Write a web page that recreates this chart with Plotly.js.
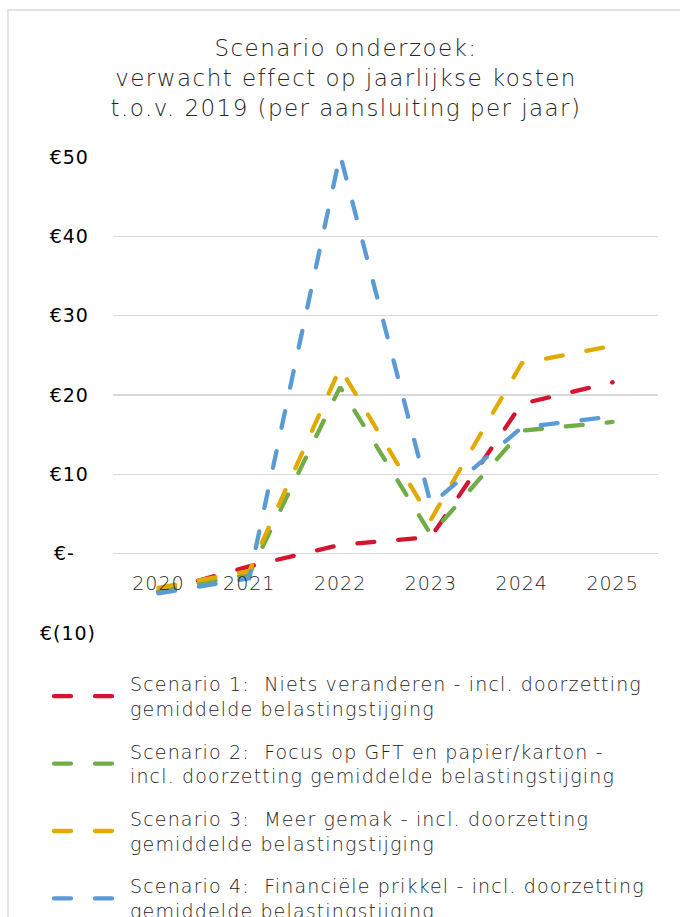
<!DOCTYPE html>
<html>
<head>
<meta charset="utf-8">
<script src="https://cdn.plot.ly/plotly-3.0.1.min.js"></script>
<style>
  body { margin: 0; background: #fff; overflow: hidden; }
  #frame { position: absolute; left: 7px; top: 9px; border-left: 2px solid #e3e3e3; border-top: 2px solid #e3e3e3; }
  .scatterlayer .js-line, .legendlines path { stroke-linecap: round; }
  /* the original is rendered with wide letter spacing */
  .legendtext { letter-spacing: 1.15px; }
  .gtitle { letter-spacing: 1.45px; }
  .xtick text { letter-spacing: 1px; }
  .ytick text { letter-spacing: 1px; }
</style>
</head>
<body>
<div id="frame"><div id="myDiv"></div></div>
<script>
// ---------------- data ----------------
var years = ['2020', '2021', '2022', '2023', '2024', '2025'];

var scen1 = [-4.8, -1.6, 1.1, 2.1, 18.9, 21.6];
var scen2 = [-4.7, -2.6, 21.0, 2.4, 15.5, 16.6];
var scen3 = [-4.3, -2.2, 23.4, 4.3, 24.0, 26.2];
var scen4 = [-5.0, -3.1, 50.3, 6.2, 15.9, 17.3];

var names = [
  'Scenario 1:  Niets veranderen - incl. doorzetting<br>gemiddelde belastingstijging',
  'Scenario 2:  Focus op GFT en papier/karton -<br>incl. doorzetting gemiddelde belastingstijging',
  'Scenario 3:  Meer gemak - incl. doorzetting<br>gemiddelde belastingstijging',
  'Scenario 4:  Financiële prikkel - incl. doorzetting<br>gemiddelde belastingstijging'
];

var colors = ['#d5152f', '#70ad47', '#e2aa00', '#5b9bd5'];

var yTicks = [-10, 0, 10, 20, 30, 40, 50];
var yLabels = ['€(10)', '€-\u00a0\u00a0\u00a0', '€10\u00a0', '€20\u00a0', '€30\u00a0', '€40\u00a0', '€50\u00a0'];

// ---------------- chart ----------------
var series = [scen1, scen2, scen3, scen4];
var data = series.map(function (vals, i) {
  return {
    x: years,
    y: vals,
    type: 'scatter',
    mode: 'lines',
    name: names[i],
    legendgroup: 'g' + i,
    line: {color: colors[i], width: 4.3, dash: '17px,24px'},
    hoverinfo: 'name+y'
  };
});

var txt = '#262626';
var fam = 'DejaVu Sans, sans-serif';

var layout = {
  width: 700,
  height: 960,
  margin: {l: 104, r: 51, t: 146, b: 338, autoexpand: false},
  paper_bgcolor: '#fff',
  plot_bgcolor: '#fff',
  font: {family: fam, color: txt, weight: 300},
  title: {
    text: 'Scenario onderzoek:<br>verwacht effect op jaarlijkse kosten<br>t.o.v. 2019 (per aansluiting per jaar)',
    font: {size: 23, color: txt, family: fam, weight: 300},
    xref: 'container', yref: 'container',
    x: 337 / 700, xanchor: 'center',
    y: 1 - 45 / 960, yanchor: 'top',
    automargin: false
  },
  xaxis: {
    type: 'category',
    range: [-0.5, 5.5],
    anchor: 'free',
    position: 1 / 6,
    showgrid: false,
    showline: false,
    zeroline: false,
    ticks: '',
    tickangle: 0,
    ticklabelstandoff: 16,
    tickfont: {size: 19, color: txt, family: fam, weight: 300},
    automargin: false,
    fixedrange: true
  },
  yaxis: {
    range: [-10, 50],
    tickvals: yTicks,
    ticktext: yLabels,
    showgrid: true,
    gridcolor: '#d9d9d9',
    gridwidth: 1.5,
    zeroline: false,
    showline: false,
    ticks: '',
    ticklabelstandoff: 16,
    tickfont: {size: 19, color: '#000', family: fam, weight: 400},
    automargin: false,
    fixedrange: true
  },
  showlegend: true,
  legend: {
    orientation: 'v',
    xref: 'container', yref: 'container',
    x: 40 / 700, xanchor: 'left',
    y: 1 - 654 / 960, yanchor: 'top',
    itemwidth: 71,
    tracegroupgap: 15,
    font: {size: 19, color: txt, family: fam, weight: 300},
    bgcolor: 'rgba(0,0,0,0)'
  }
};

Plotly.newPlot('myDiv', data, layout, {displayModeBar: false, staticPlot: true}).then(function () {
  // longer legend sample so it shows two dashes like the original
  var paths = document.querySelectorAll('.legendlines path');
  paths.forEach(function (p) { p.setAttribute('d', 'M5,0h58'); });
});
</script>
</body>
</html>
